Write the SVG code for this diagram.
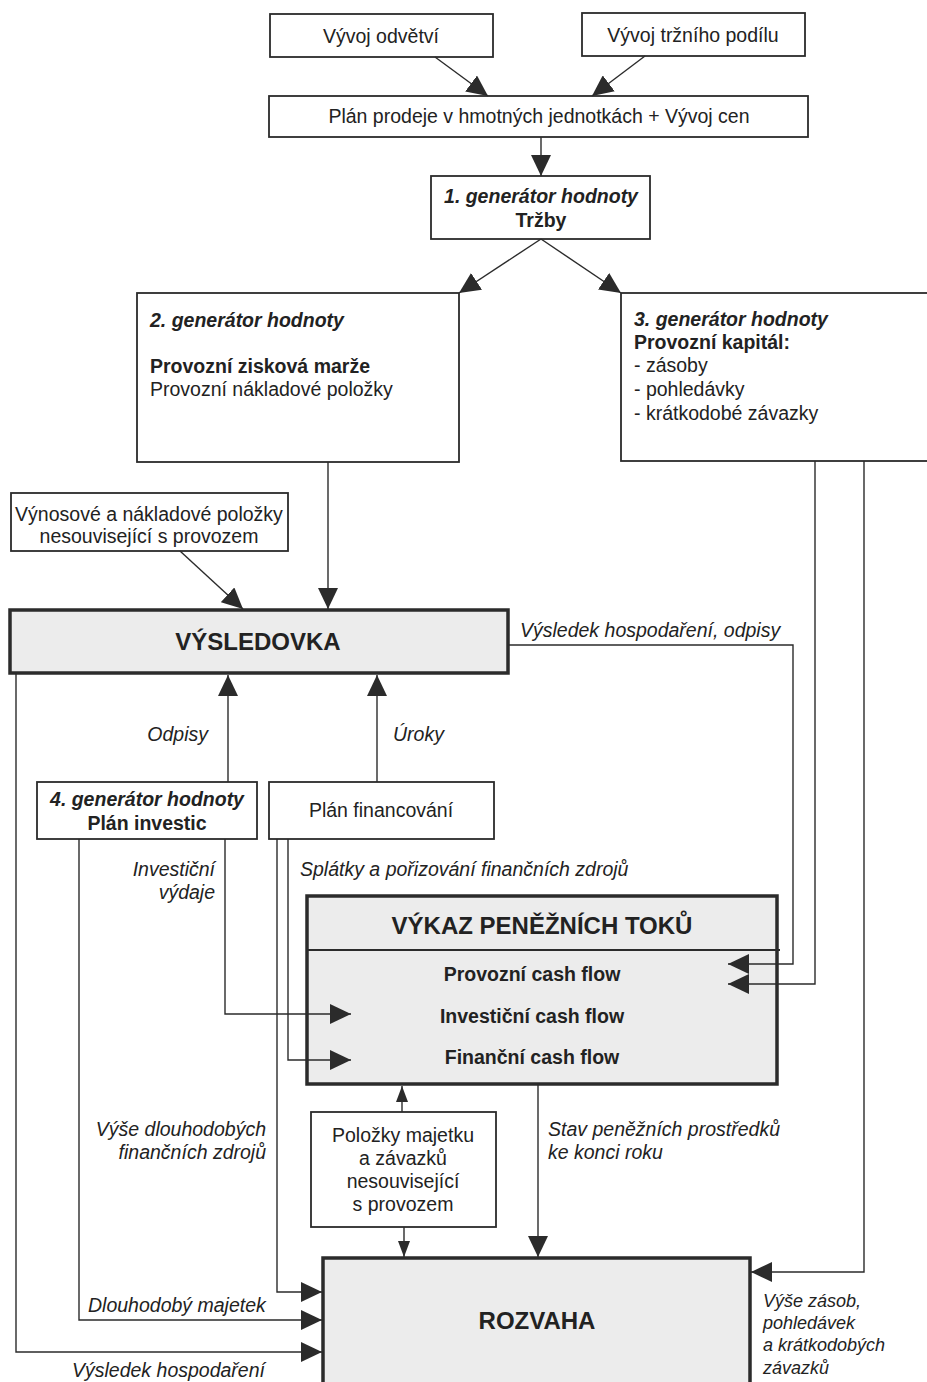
<svg xmlns="http://www.w3.org/2000/svg" width="927" height="1382" viewBox="0 0 927 1382">
<defs>
<style>
.bx{fill:#fff;stroke:#2b2b2b;stroke-width:1.8}
.tk{fill:#ececec;stroke:#2b2b2b;stroke-width:3.5}
.ln{fill:none;stroke:#2b2b2b;stroke-width:1.4}
text{font-family:"Liberation Sans",Arial,Helvetica,sans-serif;fill:#222;font-size:19.5px}
.c{text-anchor:middle}
.e{text-anchor:end}
.b{font-weight:bold}
.bi{font-weight:bold;font-style:italic}
.i{font-style:italic}
.big{font-weight:bold;font-size:24px}
.r{font-style:italic;font-size:18px}
</style>
<marker id="ah" viewBox="0 0 21 20" markerWidth="21" markerHeight="20" refX="21" refY="10" orient="auto" markerUnits="userSpaceOnUse"><path d="M0,0 L21,10 L0,20 z" fill="#2b2b2b"/></marker>
<marker id="as" viewBox="0 0 16 12" markerWidth="16" markerHeight="12" refX="16" refY="6" orient="auto" markerUnits="userSpaceOnUse"><path d="M0,0 L16,6 L0,12 z" fill="#2b2b2b"/></marker>
</defs>
<rect x="0" y="0" width="927" height="1382" fill="#fff"/>

<g id="n-vyvoj-odvetvi"><rect class="bx" x="270" y="14" width="223" height="43"/><text class="c" x="381" y="43">Vývoj odvětví</text></g>
<g id="n-vyvoj-podilu"><rect class="bx" x="582" y="13" width="223" height="43"/><text class="c" x="693" y="42">Vývoj tržního podílu</text></g>
<g id="n-plan-prodeje"><rect class="bx" x="269" y="96" width="539" height="41"/><text class="c" x="539" y="123">Plán prodeje v hmotných jednotkách + Vývoj cen</text></g>
<g id="n-gen1"><rect class="bx" x="431" y="176" width="219" height="63"/><text class="c bi" x="541" y="203">1. generátor hodnoty</text><text class="c b" x="541" y="227">Tržby</text></g>
<g id="n-gen2"><rect class="bx" x="137" y="293" width="322" height="169"/><text class="bi" x="150" y="327">2. generátor hodnoty</text><text class="b" x="150" y="373">Provozní zisková marže</text><text x="150" y="396">Provozní nákladové položky</text></g>
<g id="n-gen3"><rect class="bx" x="621" y="293" width="320" height="168"/><text class="bi" x="634" y="326">3. generátor hodnoty</text><text class="b" x="634" y="349">Provozní kapitál:</text><text x="634" y="372">- zásoby</text><text x="634" y="396">- pohledávky</text><text x="634" y="420">- krátkodobé závazky</text></g>
<g id="n-vynosove"><rect class="bx" x="11" y="493" width="277" height="58"/><text class="c" x="149" y="521">Výnosové a nákladové položky</text><text class="c" x="149" y="543">nesouvisející s provozem</text></g>
<g id="n-vysledovka"><rect class="tk" x="10" y="610" width="498" height="63"/><text class="c big" x="258" y="650">VÝSLEDOVKA</text></g>
<g id="n-gen4"><rect class="bx" x="37" y="782" width="220" height="57"/><text class="c bi" x="147" y="806">4. generátor hodnoty</text><text class="c b" x="147" y="830">Plán investic</text></g>
<g id="n-plan-financovani"><rect class="bx" x="269" y="782" width="225" height="57"/><text class="c" x="381" y="817">Plán financování</text></g>
<g id="n-vykaz"><rect class="tk" x="307" y="896" width="470" height="188"/><line x1="307" y1="950" x2="780" y2="950" stroke="#2b2b2b" stroke-width="2"/><text class="c big" x="542" y="934">VÝKAZ PENĚŽNÍCH TOKŮ</text><text class="c b" x="532" y="981">Provozní cash flow</text><text class="c b" x="532" y="1023">Investiční cash flow</text><text class="c b" x="532" y="1064">Finanční cash flow</text></g>
<g id="n-polozky"><rect class="bx" x="311" y="1112" width="185" height="115"/><text class="c" x="403" y="1142">Položky majetku</text><text class="c" x="403" y="1165">a závazků</text><text class="c" x="403" y="1188">nesouvisející</text><text class="c" x="403" y="1211">s provozem</text></g>
<g id="n-rozvaha"><rect class="tk" x="323" y="1258" width="427" height="140"/><text class="c big" x="537" y="1329">ROZVAHA</text></g>

<g id="connectors">
<line class="ln" x1="435" y1="57" x2="488" y2="96" marker-end="url(#ah)"/>
<line class="ln" x1="645" y1="56" x2="592" y2="96" marker-end="url(#ah)"/>
<line class="ln" x1="541" y1="137" x2="541" y2="176" marker-end="url(#ah)"/>
<line class="ln" x1="541" y1="239" x2="459" y2="293" marker-end="url(#ah)"/>
<line class="ln" x1="541" y1="239" x2="621" y2="293" marker-end="url(#ah)"/>
<line class="ln" x1="180" y1="551" x2="243" y2="609" marker-end="url(#ah)"/>
<line class="ln" x1="328" y1="462" x2="328" y2="609" marker-end="url(#ah)"/>
<polyline class="ln" points="508,645 793,645 793,964 728,964" marker-end="url(#ah)"/>
<polyline class="ln" points="815,461 815,984 728,984" marker-end="url(#ah)"/>
<polyline class="ln" points="864,461 864,1272 751,1272" marker-end="url(#ah)"/>
<line class="ln" x1="228" y1="782" x2="228" y2="675" marker-end="url(#ah)"/>
<line class="ln" x1="377" y1="782" x2="377" y2="675" marker-end="url(#ah)"/>
<polyline class="ln" points="16,673 16,1352 322,1352" marker-end="url(#ah)"/>
<polyline class="ln" points="79,839 79,1320 322,1320" marker-end="url(#ah)"/>
<polyline class="ln" points="225,839 225,1014 351,1014" marker-end="url(#ah)"/>
<polyline class="ln" points="277,839 277,1292 322,1292" marker-end="url(#ah)"/>
<polyline class="ln" points="288,839 288,1060 351,1060" marker-end="url(#ah)"/>
<line class="ln" x1="402" y1="1112" x2="402" y2="1086" marker-end="url(#as)"/>
<line class="ln" x1="404" y1="1227" x2="404" y2="1257" marker-end="url(#as)"/>
<line class="ln" x1="538" y1="1084" x2="538" y2="1257" marker-end="url(#ah)"/>
<text class="i" x="520" y="637">Výsledek hospodaření, odpisy</text>
<text class="i e" x="208" y="741">Odpisy</text>
<text class="i" x="393" y="741">Úroky</text>
<text class="i e" x="215" y="876">Investiční</text>
<text class="i e" x="215" y="899">výdaje</text>
<text class="i" x="300" y="876">Splátky a pořizování finančních zdrojů</text>
<text class="i e" x="266" y="1136">Výše dlouhodobých</text>
<text class="i e" x="266" y="1159">finančních zdrojů</text>
<text class="i" x="548" y="1136">Stav peněžních prostředků</text>
<text class="i" x="548" y="1159">ke konci roku</text>
<text class="i" x="88" y="1312">Dlouhodobý majetek</text>
<text class="i" x="72" y="1377">Výsledek hospodaření</text>
<text class="r" x="763" y="1307">Výše zásob,</text>
<text class="r" x="763" y="1329">pohledávek</text>
<text class="r" x="763" y="1351">a krátkodobých</text>
<text class="r" x="763" y="1374">závazků</text>
</g>
</svg>
